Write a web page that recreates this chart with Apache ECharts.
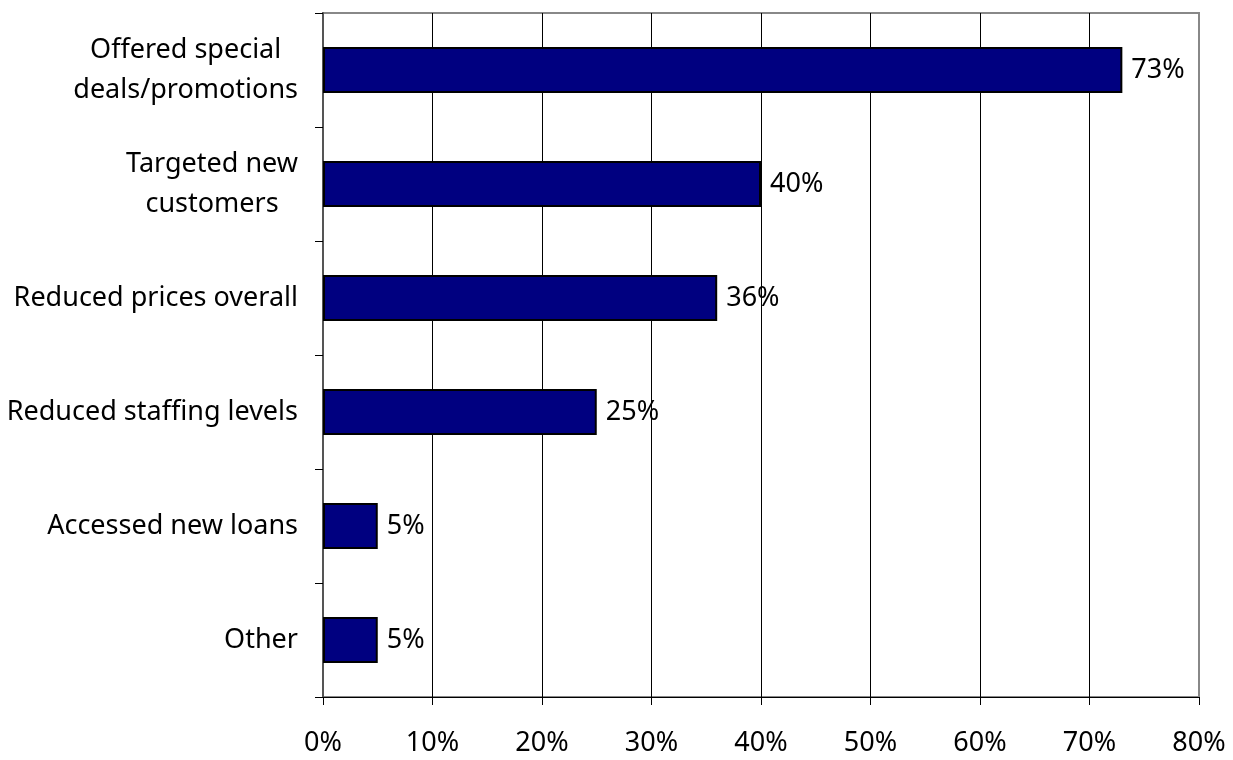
<!DOCTYPE html>
<html>
<head>
<meta charset="utf-8">
<script src="https://cdn.jsdelivr.net/npm/echarts@6/dist/echarts.min.js"></script>
<style>
html,body{margin:0;padding:0;background:#fff;}
#chart{width:1233px;height:760px;}
</style>
</head>
<body>
<div id="chart"></div>
<script>
var categories = [
  "Offered special\ndeals/promotions",
  "Targeted new\ncustomers",
  "Reduced prices overall",
  "Reduced staffing levels",
  "Accessed new loans",
  "Other"
];
var values = [73, 40, 36, 25, 5, 5];
var xTicks = [0, 10, 20, 30, 40, 50, 60, 70, 80];

var FONT = "'Noto Sans', 'Open Sans', sans-serif";
var FS = 27;

var chart = echarts.init(document.getElementById('chart'));
chart.setOption({
  backgroundColor: '#fff',
  animation: false,
  grid: {
    left: 323, right: 34, top: 13, bottom: 63,
    show: true, borderColor: '#888', borderWidth: 2, backgroundColor: 'transparent'
  },
  xAxis: {
    type: 'value',
    min: xTicks[0], max: xTicks[xTicks.length - 1], interval: 10,
    axisLine: { show: true, lineStyle: { color: '#000', width: 1 } },
    axisTick: { show: true, length: 8, lineStyle: { color: '#000' } },
    axisLabel: {
      formatter: '{value}%', margin: 33,
      color: '#000', fontSize: FS, fontFamily: FONT
    },
    splitLine: { show: true, lineStyle: { color: ['#000','#000','#000','#000','#000','#000','#000','#000','#888'], width: 1 } }
  },
  yAxis: {
    type: 'category',
    inverse: true,
    data: categories,
    axisLine: { show: true, lineStyle: { color: '#555', width: 2 } },
    axisTick: { show: true, length: 8, lineStyle: { color: '#000' } },
    axisLabel: {
      margin: 25, color: '#000', fontSize: FS, fontFamily: FONT, lineHeight: 40,
      formatter: function (v) { return '{c|' + v + '}'; },
      rich: { c: { align: 'center', fontSize: FS, fontFamily: FONT, color: '#000', lineHeight: 40 } }
    }
  },
  series: [{
    type: 'bar',
    data: values,
    barWidth: 46,
    itemStyle: { color: '#000080', borderColor: '#000', borderWidth: 2 },
    label: {
      show: true, position: 'right', distance: 9,
      formatter: '{c}%', color: '#000', fontSize: FS, fontFamily: FONT
    }
  }]
});
</script>
</body>
</html>
